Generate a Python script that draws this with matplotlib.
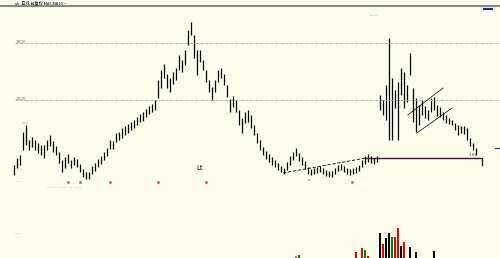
import matplotlib
matplotlib.use("Agg")
import matplotlib.pyplot as plt

# ---- data (price in chart units, bar index) ----
highs = [35,42,45,68,75,60,63,60,57,55,55,60,65,59,54,48,40,43,46,40,
         43,41,36,31,28,28,34,37,41,44,48,52,60,59,67,68,72,74,76,78,
         80,83,86,88,91,94,96,100,120,130,136,126,122,128,132,145,140,150,170,178,
         165,150,150,140,130,120,113,120,130,132,126,115,101,104,100,90,82,88,90,85,
         75,67,60,53,49,46,43,40,37,34,32,38,44,48,52,47,43,39,33,31,
         32,33,34,32,30,29,29,32,35,36,34,32,31,32,33,35,40,44,46,44,
         42,44,105,100,115,162,122,110,118,132,128,115,147,112,102,95,100,94,90,102,
         103,95,93,88,85,82,80,77,75,74,74,72,62,57,52]
lows = [25,32,35,50,55,50,53,50,47,45,42,50,54,48,45,37,28,32,37,32,
        35,33,28,23,21,21,26,29,33,36,40,44,51,51,58,60,62,65,67,70,
        72,75,78,79,83,86,88,90,102,112,122,112,108,116,120,130,128,135,155,165,
        142,125,138,130,118,108,100,108,118,122,115,103,88,93,88,75,67,77,78,72,
        65,57,50,45,41,38,35,33,30,28,26,30,35,40,44,39,35,31,26,25,
        26,27,28,26,24,23,23,26,29,30,28,26,25,26,27,29,33,36,38,37,
        36,38,90,85,80,60,60,92,60,105,92,98,125,78,68,75,85,82,80,88,
        90,84,83,80,77,76,75,70,65,67,66,60,54,50,45]

vol_idx = [94, 95, 114, 116, 117, 118, 122, 123, 124, 125, 126, 127, 128, 129, 130, 132, 134, 140]
vol_val = [1, 3, 6, 10, 8, 2, 25, 14, 20, 25, 21, 21, 30, 12, 16, 11, 6, 7]
vol_col = ['#e00000', '#008000', '#e00000', '#e00000', '#008000', '#e00000', '#000000', '#e00000',
           '#000000', '#000000', '#008000', '#e00000', '#e00000', '#000000', '#e00000', '#000000',
           '#000000', '#000000']

grid_levels = [157, 100]
grid_labels = ['3000', '2000']

trend_x = [89.7, 117.3]
trend_y = [27, 42]
support_x = [117.3, 156, 156]
support_y = [42, 42, 35]
chan_up_x = [131.3, 143]
chan_up_y = [85, 112]
chan_lo_x = [134.3, 146]
chan_lo_y = [67, 92]

BG = '#FEFEEC'
fig = plt.figure(figsize=(5.0, 2.58), dpi=100, facecolor=BG)

ax = fig.add_axes([0, 0, 1, 1])
ax.set_facecolor(BG)
ax.set_xlim(-14 / 3, 486 / 3)
ax.set_ylim(-58, 200)
ax.axis('off')

idx = list(range(len(highs)))
ax.vlines(idx, lows, highs, colors='black', linewidth=0.9)

for lv, lab in zip(grid_levels, grid_labels):
    ax.axhline(lv, xmin=0.03, xmax=1, color='#a0a0a0', linewidth=0.6, linestyle=(0, (3, 1, 1, 1)))
    ax.text(0.5, lv + 1, lab, fontsize=3, color='#707070', va='center', ha='left')

ax.plot(trend_x, trend_y, color='black', linewidth=0.6, linestyle=(0, (4, 2)))
ax.plot(support_x, support_y, color='#401040', linewidth=1.0)
ax.plot(chan_up_x, chan_up_y, color='black', linewidth=0.5)
ax.plot(chan_lo_x, chan_lo_y, color='black', linewidth=0.5)

# top strip
ax.axhline(194, color='#8a8a8a', linewidth=1.5)
ax.text(0.2, 197, 'sh  日线 前复权 MA5 MA10 —', fontsize=3, color='black', va='center', ha='left',
        family=['Noto Sans CJK SC', 'DejaVu Sans'])

# small annotations
ax.text(3.7, 77, '==', fontsize=3, color='#e06060', ha='center', va='center')
ax.text(62, 32, 'Lt', fontsize=5, color='black', ha='center', va='center')
ax.text(120, 186, '.....', fontsize=4, color='#d04040', ha='center', va='center')
ax.text(153, 45, '1.88', fontsize=3, color='#208020', ha='center', va='center')
ax.text(98.5, 20, 'xx', fontsize=3, color='#60a060', ha='center', va='center')
ax.plot([160.3, 162], [52, 52], color='#203080', linewidth=0.8)
ax.plot([156.7, 159.3], [191, 191], color='#203080', linewidth=1.5)
for mx, mc in [(18, '#e06060'), (22, '#60a060'), (32, '#e06060'), (48, '#e06060'), (64, '#e06060'), (112.7, '#e06060')]:
    ax.plot(mx, 18, marker='s', markersize=1.0, color=mc, linestyle='none')
ax.text(0.6, 19, '......', fontsize=3, color='#4060c0', ha='left', va='center')
ax.text(11, 13, '.. ..... ..... .  ..  ......', fontsize=3, color='#606060', ha='left', va='center')
ax.text(0, -33, '.....', fontsize=3, color='#707070', ha='left', va='center')

# volume
axv = fig.add_axes([0, 0, 1, 58 / 258])
axv.patch.set_alpha(0)
axv.set_xlim(-14 / 3, 486 / 3)
axv.set_ylim(0, 58)
axv.axis('off')
axv.bar(vol_idx, vol_val, width=0.45, color=vol_col)

fig.savefig('out.png', dpi=100, facecolor=BG)
